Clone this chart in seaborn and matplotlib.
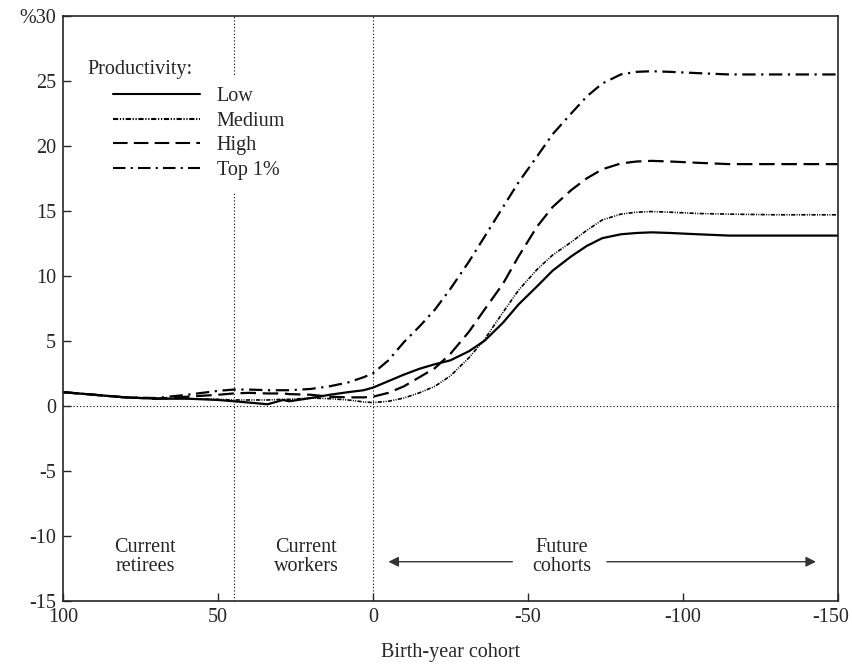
import numpy as np
import pandas as pd
import matplotlib
matplotlib.use("Agg")
import matplotlib.pyplot as plt
import matplotlib.transforms as mtransforms
import seaborn as sns

cohort = [100, 90, 80, 70, 60, 50, 45, 40, 34, 29, 27, 20, 14, 8, 3, 0,
          -5, -10, -15, -20, -25, -31, -36, -42, -47, -53, -58, -64, -69,
          -74, -80, -85, -90, -96, -105, -115, -130, -150]

low = [1.05, 0.85, 0.65, 0.55, 0.55, 0.45, 0.35, 0.25, 0.12, 0.45, 0.35, 0.6,
       0.85, 1.05, 1.2, 1.4, 1.9, 2.4, 2.85, 3.2, 3.5, 4.2, 5.0, 6.4, 7.8, 9.2,
       10.4, 11.5, 12.3, 12.9, 13.2, 13.3, 13.35, 13.3, 13.2, 13.1, 13.1, 13.1]
medium = [1.05, 0.85, 0.65, 0.55, 0.55, 0.5, 0.45, 0.45, 0.45, 0.5, 0.5, 0.6,
          0.55, 0.45, 0.3, 0.25, 0.35, 0.6, 1.0, 1.5, 2.3, 3.7, 5.1, 7.2, 8.9,
          10.5, 11.6, 12.6, 13.5, 14.3, 14.75, 14.9, 14.95, 14.9, 14.8, 14.75,
          14.7, 14.7]
high = [1.05, 0.85, 0.65, 0.55, 0.7, 0.85, 0.95, 1.0, 0.95, 0.95, 0.9, 0.85,
        0.7, 0.65, 0.65, 0.7, 1.0, 1.5, 2.2, 2.9, 4.0, 5.7, 7.4, 9.4, 11.5,
        13.8, 15.3, 16.6, 17.5, 18.2, 18.65, 18.8, 18.85, 18.8, 18.7, 18.6,
        18.6, 18.6]
top1 = [1.05, 0.85, 0.65, 0.6, 0.85, 1.15, 1.25, 1.25, 1.2, 1.2, 1.2, 1.3,
        1.5, 1.8, 2.2, 2.5, 3.5, 4.9, 6.1, 7.4, 9.0, 11.1, 13.0, 15.3, 17.2,
        19.2, 20.9, 22.5, 23.8, 24.8, 25.5, 25.7, 25.75, 25.7, 25.6, 25.5,
        25.5, 25.5]

series_names = ["Low", "Medium", "High", "Top 1%"]
yticks = [-15, -10, -5, 0, 5, 10, 15, 20, 25, 30]
ytick_labels = ["-15", "-10", "-5", "0", "5", "10", "15", "20", "25", "%30"]
xticks = [100, 50, 0, -50, -100, -150]

df = pd.DataFrame({
    "cohort": cohort * 4,
    "value": low + medium + high + top1,
    "group": sum([[n] * len(cohort) for n in series_names], []),
})

sns.set_style("ticks")
plt.rcParams["font.family"] = ["Liberation Serif", "DejaVu Serif"]
FS = 14.5
plt.rcParams["font.size"] = FS

fig = plt.figure(figsize=(8.53, 6.66), dpi=100)
ax = fig.add_axes([0.074, 0.098, 0.908, 0.878])

dashes = {"Low": "", "Medium": (2.5, 0.8, 0.6, 0.8, 0.6, 0.8), "High": (7, 3),
          "Top 1%": (6, 2.5, 1, 2.5)}
widths = {"Low": 1.6, "Medium": 1.2, "High": 1.6, "Top 1%": 1.6}

sns.lineplot(data=df, x="cohort", y="value", hue="group", style="group",
             palette={n: "black" for n in series_names}, dashes=dashes,
             estimator=None, sort=False, ax=ax, linewidth=1.5)
for line, name in zip(ax.get_lines(), series_names):
    line.set_linewidth(widths[name])

ax.axhline(0, color="black", linestyle=(0, (1, 2)), linewidth=0.8, zorder=0)
ax.axvline(0, color="black", linestyle=(0, (1, 2)), linewidth=0.8, zorder=0)
ax.axvline(45, color="black", linestyle=(0, (1, 2)), linewidth=0.8, zorder=0)

ax.set_xlim(100, -150)
ax.set_ylim(-15, 30)
ax.set_xticks(xticks)
ax.set_xticklabels([str(t) for t in xticks])
ax.set_yticks(yticks)
ax.set_yticklabels(ytick_labels)
ax.tick_params(direction="in", length=6, width=1, labelsize=FS, pad=5)
for s in ax.spines.values():
    s.set_linewidth(1.2)

# last x label sits against the right edge, nudge it left
last = ax.get_xticklabels()[-1]
last.set_transform(last.get_transform() +
                   mtransforms.ScaledTranslation(-7 / 100, 0, fig.dpi_scale_trans))

ax.set_xlabel("Birth-year cohort", fontsize=FS, labelpad=12)
ax.set_ylabel("")

handles, labels = ax.get_legend_handles_labels()
leg = ax.legend(handles, labels, loc="upper left",
                bbox_to_anchor=(0.049, 0.899), handlelength=4.3, fontsize=FS,
                frameon=True, framealpha=1, edgecolor="none",
                facecolor="white", labelspacing=0.27, handletextpad=0.85,
                borderpad=0.6, borderaxespad=0)
ax.text(0.032, 0.908, "Productivity:", transform=ax.transAxes, ha="left",
        va="center", fontsize=FS, zorder=6,
        bbox=dict(facecolor="white", edgecolor="none", pad=1))

ax.text(73.5, -11.6, "Current\nretirees", ha="center", va="center",
        fontsize=FS, linespacing=1.0)
ax.text(21.6, -11.6, "Current\nworkers", ha="center", va="center",
        fontsize=FS, linespacing=1.0)
ax.text(-61, -11.6, "Future\ncohorts", ha="center", va="center",
        fontsize=FS, linespacing=1.0)
arrow = dict(arrowstyle="-|>", color="#333333", lw=1.0,
             mutation_scale=15, shrinkA=0, shrinkB=0)
ax.annotate("", xy=(-5, -12), xytext=(-45, -12), arrowprops=arrow)
ax.annotate("", xy=(-143, -12), xytext=(-75.5, -12), arrowprops=arrow)

fig.savefig("out.png", dpi=100)
